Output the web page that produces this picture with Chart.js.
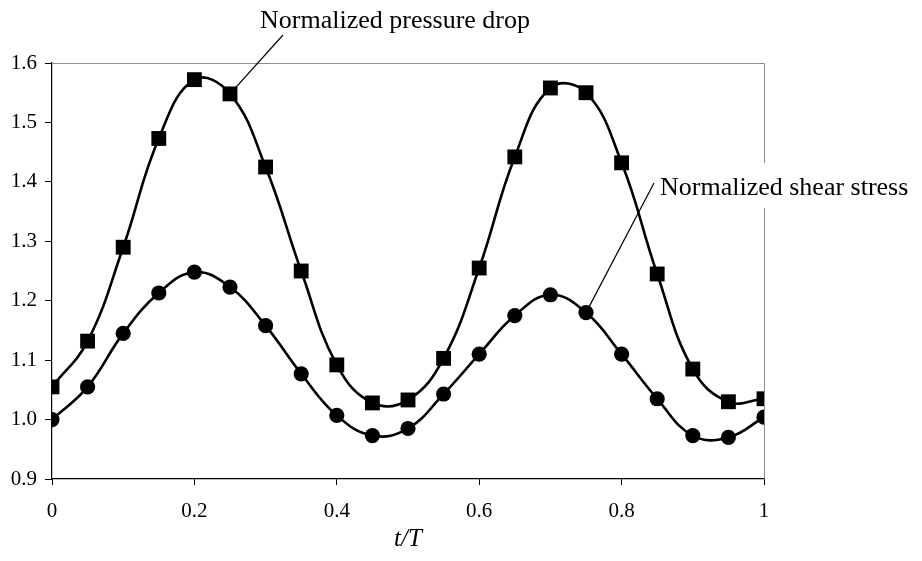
<!DOCTYPE html>
<html>
<head>
<meta charset="utf-8">
<script src="https://cdn.jsdelivr.net/npm/chart.js@4/dist/chart.umd.min.js"></script>
<style>
  html, body { margin: 0; padding: 0; background: #fff; }
  #wrap { width: 922px; height: 561px; }
</style>
</head>
<body>
<div id="wrap"><canvas id="chart" width="922" height="561"></canvas></div>
<script>
// t/T sample points
const tValues = [0, 0.05, 0.1, 0.15, 0.2, 0.25, 0.3, 0.35, 0.4, 0.45, 0.5,
                 0.55, 0.6, 0.65, 0.7, 0.75, 0.8, 0.85, 0.9, 0.95, 1];
// normalized pressure drop (squares)
const pressureDrop = [1.055, 1.132, 1.29, 1.473, 1.572, 1.548, 1.425, 1.25, 1.092, 1.028, 1.033,
                      1.103, 1.255, 1.442, 1.558, 1.55, 1.432, 1.245, 1.085, 1.03, 1.035];
// normalized shear stress (circles)
const shearStress = [1.0, 1.055, 1.145, 1.213, 1.248, 1.223, 1.158, 1.077, 1.007, 0.973, 0.985,
                     1.043, 1.11, 1.175, 1.21, 1.18, 1.11, 1.035, 0.973, 0.97, 1.004];
const xTicks = [0, 0.2, 0.4, 0.6, 0.8, 1];
const yTicks = [0.9, 1.0, 1.1, 1.2, 1.3, 1.4, 1.5, 1.6];

const SERIF = '"Liberation Serif", "Times New Roman", serif';

const toPoints = ys => tValues.map((t, i) => ({ x: t, y: ys[i] }));

// frame (gray top/right) + callout labels with leader lines
const calloutPlugin = {
  id: 'callouts',
  beforeDatasetsDraw(chart) {
    const { ctx, chartArea: a } = chart;
    ctx.save();
    ctx.strokeStyle = '#8c8c8c';
    ctx.lineWidth = 1;
    ctx.beginPath();
    ctx.moveTo(a.left, a.top + 0.5);
    ctx.lineTo(a.right + 0.5, a.top + 0.5);
    ctx.lineTo(a.right + 0.5, a.bottom);
    ctx.stroke();
    ctx.restore();
  },
  afterDatasetsDraw(chart) {
    const { ctx, scales: { x, y } } = chart;
    ctx.save();
    ctx.font = '26px ' + SERIF;
    ctx.fillStyle = '#000';
    ctx.textBaseline = 'alphabetic';

    // pressure drop label (leader to t/T = 0.25)
    const p = { x: x.getPixelForValue(tValues[5]), y: y.getPixelForValue(pressureDrop[5]) };
    ctx.strokeStyle = '#000';
    ctx.lineWidth = 1.2;
    ctx.beginPath();
    ctx.moveTo(p.x, p.y);
    ctx.lineTo(283, 35);
    ctx.stroke();
    ctx.fillText('Normalized pressure drop', 260, 28);

    // shear stress label (leader to t/T = 0.75), white box hides the frame
    ctx.fillStyle = '#fff';
    ctx.fillRect(657, 163, 262, 45);
    ctx.fillStyle = '#000';
    ctx.fillText('Normalized shear stress', 660, 195);
    const s = { x: x.getPixelForValue(tValues[15]), y: y.getPixelForValue(shearStress[15]) };
    ctx.beginPath();
    ctx.moveTo(s.x, s.y);
    ctx.lineTo(654, 183);
    ctx.stroke();
    ctx.restore();
  }
};

new Chart(document.getElementById('chart'), {
  type: 'line',
  data: {
    datasets: [
      {
        label: 'Normalized pressure drop',
        data: toPoints(pressureDrop),
        borderColor: '#000',
        backgroundColor: '#000',
        borderWidth: 2.6,
        tension: 0.42,
        pointStyle: 'rect',
        pointRadius: 10.5,
        pointBorderWidth: 0,
        pointBackgroundColor: '#000'
      },
      {
        label: 'Normalized shear stress',
        data: toPoints(shearStress),
        borderColor: '#000',
        backgroundColor: '#000',
        borderWidth: 2.6,
        tension: 0.42,
        pointStyle: 'circle',
        pointRadius: 7.6,
        pointBorderWidth: 0,
        pointBackgroundColor: '#000'
      }
    ]
  },
  options: {
    responsive: false,
    animation: false,
    events: [],
    layout: { padding: { top: 63, right: 158, left: 0, bottom: 0 } },
    plugins: { legend: { display: false }, tooltip: { enabled: false } },
    scales: {
      x: {
        type: 'linear',
        min: 0,
        max: 1,
        afterFit(scale) { scale.height = 82; },
        afterBuildTicks(scale) { scale.ticks = xTicks.map(v => ({ value: v })); },
        ticks: {
          color: '#000',
          font: { family: SERIF, size: 21 },
          padding: 14,
          callback: v => String(v)
        },
        grid: { drawOnChartArea: false, color: '#000', tickLength: 6, tickWidth: 1 },
        border: { color: '#000', width: 1.2 },
        title: {
          display: true,
          text: 't/T',
          color: '#000',
          font: { family: SERIF, size: 25, style: 'italic' },
          padding: { top: 0, bottom: 7 }
        }
      },
      y: {
        min: 0.9,
        max: 1.6,
        afterFit(scale) { scale.width = 52; },
        afterBuildTicks(scale) { scale.ticks = yTicks.map(v => ({ value: v })); },
        ticks: {
          color: '#000',
          font: { family: SERIF, size: 21 },
          padding: 8,
          callback: v => v.toFixed(1)
        },
        grid: { drawOnChartArea: false, color: '#000', tickLength: 7, tickWidth: 1 },
        border: { color: '#000', width: 1.2 }
      }
    }
  },
  plugins: [calloutPlugin]
});
</script>
</body>
</html>
